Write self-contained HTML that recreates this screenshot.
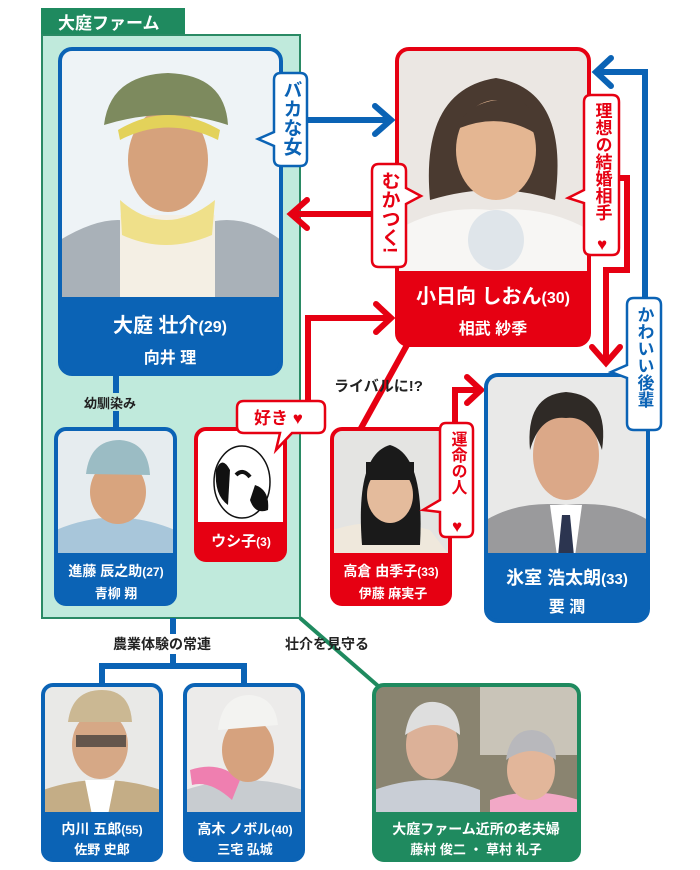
<!DOCTYPE html>
<html><head><meta charset="utf-8"><style>
html,body{margin:0;padding:0;background:#fff}
svg{display:block}
text{font-family:"Liberation Sans","Noto Sans CJK JP",sans-serif;font-weight:bold}
</style></head><body>
<svg width="700" height="870" viewBox="0 0 700 870" xmlns="http://www.w3.org/2000/svg">
<rect x="41" y="8" width="144" height="28" fill="#1f8a5f"/>
<text x="58" y="29" font-size="17" fill="#fff">大庭ファーム</text>
<rect x="42" y="35" width="258" height="583" fill="#c0eadc" stroke="#2a8a64" stroke-width="2"/>

<line x1="116" y1="376" x2="116" y2="428" stroke="#0b63b5" stroke-width="6"/>
<rect x="82" y="393" width="70" height="18" fill="#c0eadc"/>
<text x="84" y="408" font-size="13" fill="#222">幼馴染み</text>
<polyline points="173,618 173,666 102,666 102,684" fill="none" stroke="#0b63b5" stroke-width="6"/>
<polyline points="173,666 244,666 244,684" fill="none" stroke="#0b63b5" stroke-width="6"/>
<rect x="110" y="634" width="126" height="20" fill="#fff"/>
<text x="113" y="649" font-size="14" fill="#222">農業体験の常連</text>
<line x1="300" y1="618" x2="385" y2="692" stroke="#1f8a5f" stroke-width="4"/>
<text x="285" y="649" font-size="14" fill="#222">壮介を見守る</text>

<line x1="305" y1="120" x2="390" y2="120" stroke="#0b63b5" stroke-width="6"/>
<polyline points="375,106 391,120 375,134" fill="none" stroke="#0b63b5" stroke-width="6" stroke-linecap="round"/>
<line x1="372" y1="214" x2="292" y2="214" stroke="#e60012" stroke-width="6"/>
<polyline points="307,200 291,214 307,228" fill="none" stroke="#e60012" stroke-width="6" stroke-linecap="round"/>
<polyline points="615,178 627,178 627,270 606,270 606,362" fill="none" stroke="#e60012" stroke-width="6"/>
<polyline points="592,347 606,363 620,347" fill="none" stroke="#e60012" stroke-width="6" stroke-linecap="round"/>
<polyline points="645,300 645,72 597,72" fill="none" stroke="#0b63b5" stroke-width="6"/>
<polyline points="611,58 596,72 611,86" fill="none" stroke="#0b63b5" stroke-width="6" stroke-linecap="round"/>
<polyline points="308,402 308,318 390,318" fill="none" stroke="#e60012" stroke-width="6"/>
<polyline points="376,304 391,318 376,332" fill="none" stroke="#e60012" stroke-width="6" stroke-linecap="round"/>
<line x1="407" y1="345" x2="360" y2="430" stroke="#e60012" stroke-width="6"/>
<text x="334" y="391" font-size="15" fill="#222">ライバルに!?</text>
<polyline points="455,425 455,390 480,390" fill="none" stroke="#e60012" stroke-width="6"/>
<polyline points="467,377 481,390 467,403" fill="none" stroke="#e60012" stroke-width="6" stroke-linecap="round"/>

<clipPath id="c1"><rect x="60" y="49" width="221" height="325" rx="12"/></clipPath>
<g clip-path="url(#c1)">
<rect x="60" y="49" width="221" height="250" fill="#eef3f6"/>
<path d="M60 240 Q110 210 140 225 L200 225 Q240 210 281 240 L281 300 L60 300Z" fill="#a9b1b8"/>
<rect x="120" y="215" width="95" height="85" fill="#f4efe4"/>
<path d="M120 200 Q165 240 215 200 L212 235 Q165 255 122 235Z" fill="#efe08a"/>
<ellipse cx="168" cy="160" rx="40" ry="52" fill="#d6a27c"/>
<path d="M104 125 Q110 75 168 73 Q225 75 228 125 Q168 105 104 125Z" fill="#7d8a5e"/>
<path d="M118 130 Q168 100 220 130 L218 140 Q168 115 120 140Z" fill="#e3d25a"/>
<rect x="60" y="297" width="221" height="79" fill="#0b63b5"/>
</g>
<rect x="60" y="49" width="221" height="325" rx="12" fill="none" stroke="#0b63b5" stroke-width="4"/>
<text x="170" y="332" font-size="20" fill="#fff" text-anchor="middle">大庭 壮介<tspan font-size="16">(29)</tspan></text>
<text x="170" y="363" font-size="16" fill="#fff" text-anchor="middle">向井 理</text>

<clipPath id="c2"><rect x="397" y="49" width="192" height="296" rx="12"/></clipPath>
<g clip-path="url(#c2)">
<rect x="397" y="49" width="192" height="225" fill="#ebe7e3"/>
<path d="M397 230 Q440 205 490 210 Q545 205 589 230 L589 275 L397 275Z" fill="#f7f6f4"/>
<ellipse cx="496" cy="240" rx="28" ry="30" fill="#dfe5ea"/>
<path d="M430 200 Q420 90 496 78 Q570 90 555 200 Q496 180 430 200Z" fill="#4a3a30"/>
<ellipse cx="496" cy="150" rx="40" ry="50" fill="#e4b692"/>
<path d="M455 130 Q470 95 520 100 Q540 115 538 135 Q500 110 455 130Z" fill="#4a3a30"/>
<rect x="397" y="271" width="192" height="76" fill="#e60012"/>
</g>
<rect x="397" y="49" width="192" height="296" rx="12" fill="none" stroke="#e60012" stroke-width="4"/>
<text x="493" y="303" font-size="20" fill="#fff" text-anchor="middle">小日向 しおん<tspan font-size="16">(30)</tspan></text>
<text x="493" y="334" font-size="16" fill="#fff" text-anchor="middle">相武 紗季</text>

<clipPath id="c3"><rect x="486" y="375" width="162" height="246" rx="12"/></clipPath>
<g clip-path="url(#c3)">
<rect x="486" y="375" width="162" height="180" fill="#e9e9e8"/>
<path d="M486 520 Q520 500 566 505 Q615 500 648 520 L648 556 L486 556Z" fill="#9a9a9c"/>
<path d="M550 505 L582 505 L575 556 L557 556Z" fill="#fff"/>
<path d="M562 515 L570 515 L574 556 L558 556Z" fill="#2c3550"/>
<ellipse cx="566" cy="455" rx="33" ry="45" fill="#dba888"/>
<path d="M530 450 Q525 395 566 392 Q610 395 602 450 Q590 415 566 418 Q540 415 530 450Z" fill="#2f2a26"/>
<rect x="486" y="553" width="162" height="70" fill="#0b63b5"/>
</g>
<rect x="486" y="375" width="162" height="246" rx="12" fill="none" stroke="#0b63b5" stroke-width="4"/>
<text x="567" y="584" font-size="18" fill="#fff" text-anchor="middle">氷室 浩太朗<tspan font-size="15">(33)</tspan></text>
<text x="567" y="612" font-size="16" fill="#fff" text-anchor="middle">要 潤</text>

<clipPath id="c4"><rect x="332" y="429" width="118" height="175" rx="10"/></clipPath>
<g clip-path="url(#c4)">
<rect x="332" y="429" width="118" height="126" fill="#e4e4e2"/>
<path d="M332 530 Q380 515 430 530 L450 556 L332 556Z" fill="#efe8dc"/>
<path d="M362 545 Q355 455 390 445 Q425 455 420 545 Z" fill="#1a1a1a"/>
<ellipse cx="390" cy="495" rx="23" ry="28" fill="#e4bb9c"/>
<rect x="366" y="462" width="48" height="18" fill="#1a1a1a"/>
<rect x="332" y="553" width="118" height="53" fill="#e60012"/>
</g>
<rect x="332" y="429" width="118" height="175" rx="10" fill="none" stroke="#e60012" stroke-width="4"/>
<text x="391" y="576" font-size="14" fill="#fff" text-anchor="middle">高倉 由季子<tspan font-size="12">(33)</tspan></text>
<text x="393" y="598" font-size="13" fill="#fff" text-anchor="middle">伊藤 麻実子</text>

<clipPath id="c5"><rect x="196" y="429" width="89" height="131" rx="10"/></clipPath>
<g clip-path="url(#c5)">
<rect x="196" y="429" width="89" height="95" fill="#fff"/>
<ellipse cx="242" cy="482" rx="28" ry="36" fill="#fff" stroke="#111" stroke-width="1.5"/>
<path d="M216 470 Q222 455 230 470 L228 505 Q214 495 216 470Z" fill="#111"/>
<path d="M255 485 Q270 490 268 510 Q255 515 250 500Z" fill="#111"/>
<path d="M236 475 Q243 468 250 477" fill="none" stroke="#111" stroke-width="4"/>
<rect x="196" y="522" width="89" height="40" fill="#e60012"/>
</g>
<rect x="196" y="429" width="89" height="131" rx="10" fill="none" stroke="#e60012" stroke-width="4"/>
<text x="241" y="546" font-size="15" fill="#fff" text-anchor="middle">ウシ子<tspan font-size="12">(3)</tspan></text>

<clipPath id="c6"><rect x="56" y="429" width="119" height="175" rx="10"/></clipPath>
<g clip-path="url(#c6)">
<rect x="56" y="429" width="119" height="126" fill="#e6ecef"/>
<path d="M56 530 Q115 505 175 530 L175 556 L56 556Z" fill="#a8c6da"/>
<ellipse cx="118" cy="492" rx="28" ry="32" fill="#d8a47e"/>
<path d="M86 474 Q90 440 120 440 Q148 442 150 475 Z" fill="#9bbcc4"/>
<rect x="56" y="553" width="119" height="53" fill="#0b63b5"/>
</g>
<rect x="56" y="429" width="119" height="175" rx="10" fill="none" stroke="#0b63b5" stroke-width="4"/>
<text x="116" y="576" font-size="14" fill="#fff" text-anchor="middle">進藤 辰之助<tspan font-size="12">(27)</tspan></text>
<text x="116" y="598" font-size="13" fill="#fff" text-anchor="middle">青柳 翔</text>

<clipPath id="c7"><rect x="43" y="685" width="118" height="175" rx="10"/></clipPath>
<g clip-path="url(#c7)">
<rect x="43" y="685" width="118" height="130" fill="#e9e9e7"/>
<path d="M43 790 Q100 770 161 790 L161 815 L43 815Z" fill="#c4ad86"/>
<path d="M85 780 L115 780 L108 815 L92 815Z" fill="#fff"/>
<ellipse cx="100" cy="745" rx="28" ry="34" fill="#d6a886"/>
<path d="M68 722 Q72 690 102 690 Q130 690 132 722Z" fill="#cbb893"/>
<rect x="76" y="735" width="50" height="12" fill="#333" opacity=".7"/>
<rect x="43" y="812" width="118" height="50" fill="#0b63b5"/>
</g>
<rect x="43" y="685" width="118" height="175" rx="10" fill="none" stroke="#0b63b5" stroke-width="4"/>
<text x="102" y="834" font-size="14" fill="#fff" text-anchor="middle">内川 五郎<tspan font-size="12">(55)</tspan></text>
<text x="102" y="854" font-size="13" fill="#fff" text-anchor="middle">佐野 史郎</text>

<clipPath id="c8"><rect x="185" y="685" width="118" height="175" rx="10"/></clipPath>
<g clip-path="url(#c8)">
<rect x="185" y="685" width="118" height="130" fill="#ecebea"/>
<path d="M185 790 Q245 770 303 790 L303 815 L185 815Z" fill="#c8ccd0"/>
<path d="M190 770 Q220 760 240 780 L232 800 Q210 780 192 785Z" fill="#ef7fb0"/>
<ellipse cx="248" cy="750" rx="26" ry="32" fill="#d6a27e"/>
<path d="M218 730 Q222 695 250 695 Q275 697 278 725Z" fill="#f3f3f1"/>
<rect x="185" y="812" width="118" height="50" fill="#0b63b5"/>
</g>
<rect x="185" y="685" width="118" height="175" rx="10" fill="none" stroke="#0b63b5" stroke-width="4"/>
<text x="245" y="834" font-size="14" fill="#fff" text-anchor="middle">高木 ノボル<tspan font-size="12">(40)</tspan></text>
<text x="245" y="854" font-size="13" fill="#fff" text-anchor="middle">三宅 弘城</text>

<clipPath id="c9"><rect x="374" y="685" width="205" height="175" rx="10"/></clipPath>
<g clip-path="url(#c9)">
<rect x="374" y="685" width="205" height="130" fill="#8a8470"/>
<rect x="480" y="685" width="99" height="70" fill="#c9c4b8"/>
<path d="M374 790 Q430 770 480 790 L480 815 L374 815Z" fill="#c9ced6"/>
<path d="M490 800 Q530 785 579 800 L579 815 L490 815Z" fill="#f2a8c6"/>
<ellipse cx="432" cy="745" rx="26" ry="34" fill="#dcb198"/>
<path d="M405 735 Q410 700 435 702 Q460 705 460 735 Q435 715 405 735Z" fill="#dedede"/>
<ellipse cx="531" cy="770" rx="24" ry="30" fill="#e2b69a"/>
<path d="M506 760 Q510 730 532 730 Q556 732 556 760 Q532 742 506 760Z" fill="#b8b8bc"/>
<rect x="374" y="812" width="205" height="50" fill="#1f8a5f"/>
</g>
<rect x="374" y="685" width="205" height="175" rx="10" fill="none" stroke="#1f8a5f" stroke-width="4"/>
<text x="476" y="834" font-size="14" fill="#fff" text-anchor="middle">大庭ファーム近所の老夫婦</text>
<text x="476" y="854" font-size="13" fill="#fff" text-anchor="middle">藤村 俊二 ・ 草村 礼子</text>

<path d="M281 73 H300 Q307 73 307 80 V159 Q307 166 300 166 H281 Q274 166 274 159 V146 L258 139 L274 132 V80 Q274 73 281 73Z" fill="#fff" stroke="#0b63b5" stroke-width="2.5"/>
<text x="291" y="80" font-size="19" fill="#0b63b5" style="writing-mode:vertical-rl">バカな女</text>

<path d="M379 164 H399 Q406 164 406 171 V188 L421 196 L406 204 V260 Q406 267 399 267 H379 Q372 267 372 260 V171 Q372 164 379 164Z" fill="#fff" stroke="#e60012" stroke-width="2.5"/>
<text x="389" y="171" font-size="19" fill="#e60012" style="writing-mode:vertical-rl">むかつく!</text>

<path d="M591 95 H612 Q619 95 619 102 V248 Q619 255 612 255 H591 Q584 255 584 248 V203 L568 198 L584 190 V102 Q584 95 591 95Z" fill="#fff" stroke="#e60012" stroke-width="2.5"/>
<text x="602" y="102" font-size="17" fill="#e60012" style="writing-mode:vertical-rl">理想の結婚相手</text>
<text x="602" y="250" font-size="17" fill="#e60012" text-anchor="middle">♥</text>

<path d="M634 298 H654 Q661 298 661 305 V423 Q661 430 654 430 H634 Q627 430 627 423 V378 L611 372 L627 365 V305 Q627 298 634 298Z" fill="#fff" stroke="#0b63b5" stroke-width="2.5"/>
<text x="644" y="306" font-size="17" fill="#0b63b5" style="writing-mode:vertical-rl">かわいい後輩</text>

<path d="M446 423 H466 Q473 423 473 430 V530 Q473 537 466 537 H446 Q440 537 440 530 V512 L423 510 L440 500 V430 Q440 423 446 423Z" fill="#fff" stroke="#e60012" stroke-width="2.5"/>
<text x="457" y="431" font-size="16" fill="#e60012" style="writing-mode:vertical-rl">運命の人</text>
<text x="457" y="532" font-size="17" fill="#e60012" text-anchor="middle">♥</text>

<path d="M244 401 H318 Q325 401 325 408 V426 Q325 433 318 433 H292 L276 450 L280 433 H244 Q237 433 237 426 V408 Q237 401 244 401Z" fill="#fff" stroke="#e60012" stroke-width="2.5"/>
<text x="254" y="424" font-size="17" fill="#e60012">好き ♥</text>
</svg>
</body></html>
